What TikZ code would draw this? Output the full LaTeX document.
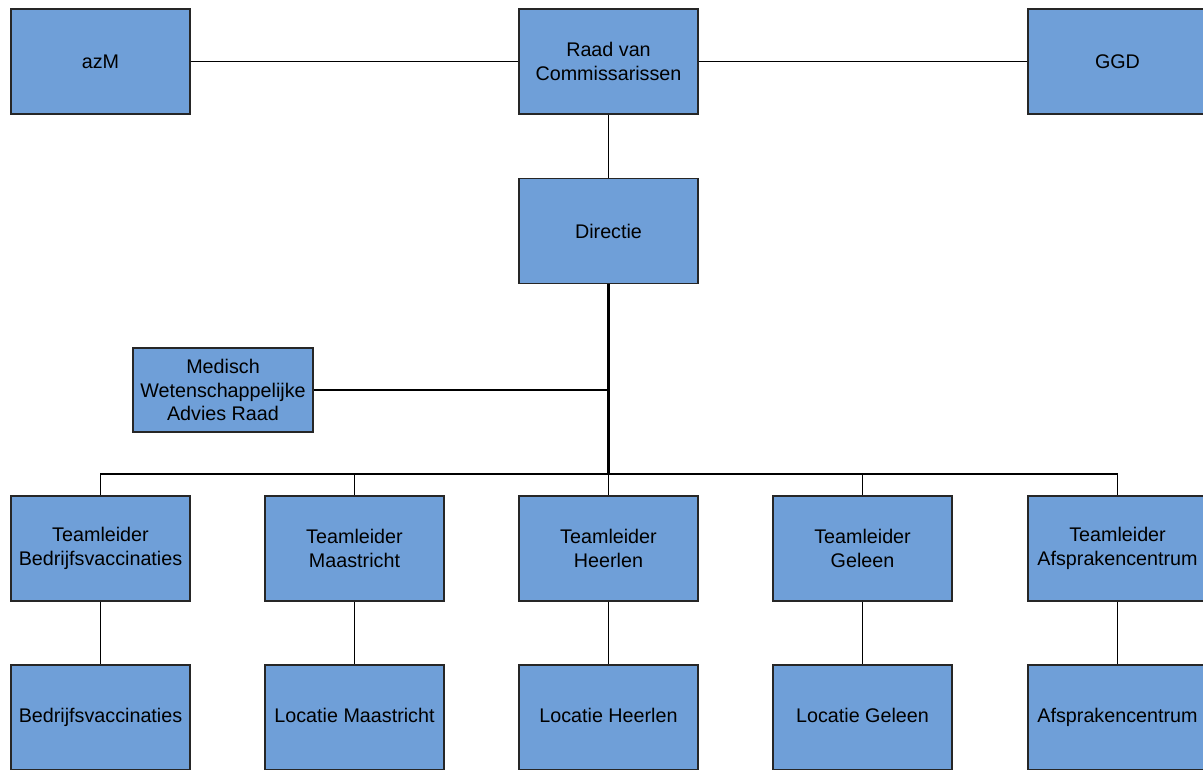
\documentclass[tikz,border=0pt]{standalone}
\usepackage{fontspec}
\setmainfont{Liberation Sans}
\usetikzlibrary{positioning}

\definecolor{boxblue}{HTML}{6F9FD8}

\tikzset{
  orgbox/.style={draw=black!85, fill=boxblue, line width=0.8pt,
    minimum width=134.25pt, minimum height=78.75pt, inner sep=0pt,
    align=center, font=\fontsize{14.8}{17.6}\selectfont},
  smallbox/.style={orgbox, minimum width=135pt, minimum height=63pt},
  link/.style={black, line width=1.4pt}
}

\begin{document}
\begin{tikzpicture}[x=0.75pt,y=-0.75pt]
\useasboundingbox (0,0) rectangle (1203,769);
\clip (0,0) rectangle (1203,769);

% top row
\node [orgbox] (raad) at (608.5,61.5) {Raad van\\Commissarissen};
\node [orgbox] (azm) at (100.5,61.5) {azM};
\node [orgbox] (ggd) at (1117.5,61.5) {GGD};

% directie and advisory board
\node [orgbox] (dir) at (608.5,231) {Directie};
\node [smallbox] (mwar) at (223,390) {Medisch\\Wetenschappelijke\\Advies Raad};

% team leaders
\node [orgbox] (tlb) at (100.5,548.5) {Teamleider\\Bedrijfsvaccinaties};
\node [orgbox] (tlm) at (354.5,548.5) {Teamleider\\Maastricht};
\node [orgbox] (tlh) at (608.5,548.5) {Teamleider\\Heerlen};
\node [orgbox] (tlg) at (862.5,548.5) {Teamleider\\Geleen};
\node [orgbox] (tla) at (1117.5,548.5) {Teamleider\\Afsprakencentrum};

% locations
\node [orgbox] (lb) at (100.5,717.5) {\strut Bedrijfsvaccinaties};
\node [orgbox] (lm) at (354.5,717.5) {\strut Locatie Maastricht};
\node [orgbox] (lh) at (608.5,717.5) {\strut Locatie Heerlen};
\node [orgbox] (lg) at (862.5,717.5) {\strut Locatie Geleen};
\node [orgbox] (la) at (1117.5,717.5) {\strut Afsprakencentrum};

% connectors
\coordinate (bus) at (608.5,474);
\draw [link] (azm) -- (raad);
\draw [link] (raad) -- (ggd);
\draw [link] (raad) -- (dir);
\draw [link, line width=2.2pt] (dir.south) -- (bus);
\draw [link] (mwar.east) -- (mwar.east -| dir.south);
\foreach \t in {tlb,tlm,tlh,tlg,tla}
  \draw [link] (bus) -| (\t.north);
\foreach \t/\l in {tlb/lb,tlm/lm,tlh/lh,tlg/lg,tla/la}
  \draw [link] (\t) -- (\l);

\end{tikzpicture}
\end{document}
